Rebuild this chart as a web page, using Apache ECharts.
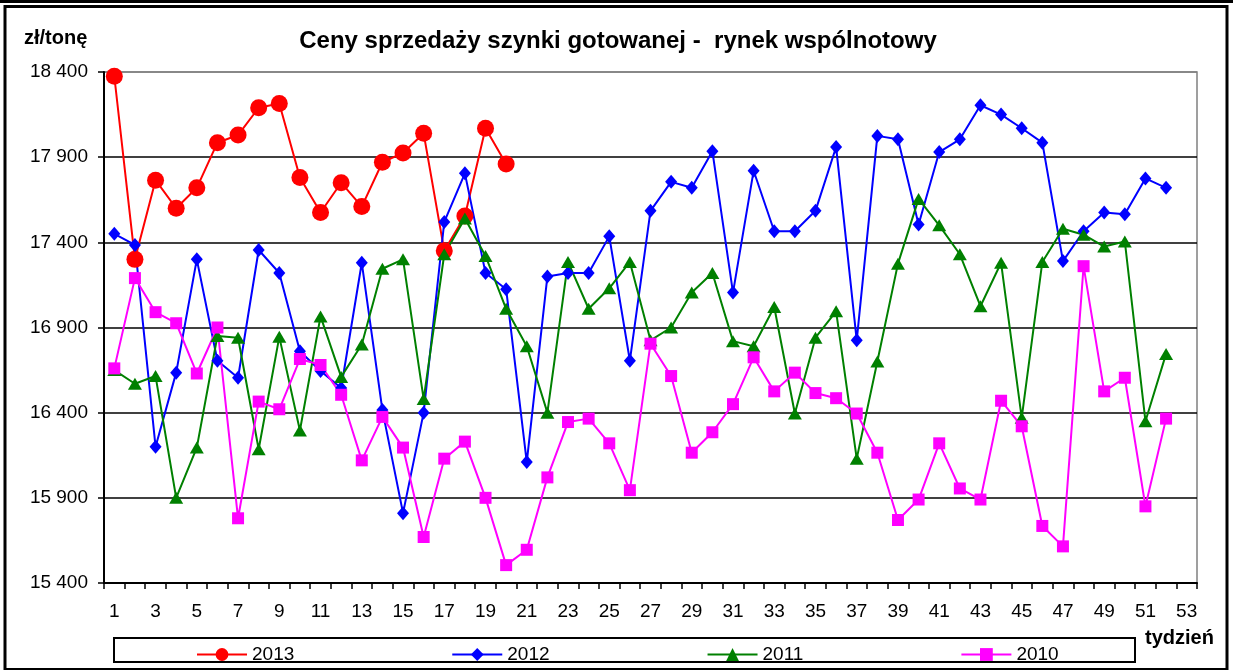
<!DOCTYPE html>
<html>
<head>
<meta charset="utf-8">
<script src="https://cdn.jsdelivr.net/npm/echarts@6/dist/echarts.min.js"></script>
<style>
html,body{margin:0;padding:0;background:#fff;}
#chart{width:1233px;height:670px;}
</style>
</head>
<body>
<div id="chart"></div>
<script>
var weeks = [];
for (var i = 1; i <= 53; i++) weeks.push(String(i));

var seriesNames = ['2013', '2012', '2011', '2010'];

var s2013 = [18375, 17300, 17765, 17600, 17720, 17985, 18030, 18190, 18215, 17780,
             17575, 17750, 17610, 17870, 17925, 18040, 17350, 17555, 18070, 17860];

var s2012 = [17450, 17385, 16200, 16635, 17300, 16705, 16605, 17355, 17220, 16760,
             16645, 16545, 17280, 16415, 15810, 16400, 17520, 17805, 17220, 17125,
             16110, 17200, 17220, 17220, 17435, 16705, 17585, 17755, 17720, 17935,
             17105, 17820, 17465, 17465, 17585, 17960, 16825, 18025, 18005, 17505,
             17930, 18005, 18205, 18150, 18070, 17985, 17290, 17465, 17575, 17565,
             17775, 17720];

var s2011 = [16650, 16570, 16615, 15900, 16195, 16850, 16840, 16185, 16845, 16295,
             16965, 16610, 16800, 17245, 17300, 16480, 17330, 17540, 17320, 17010,
             16790, 16400, 17285, 17010, 17130, 17285, 16825, 16900, 17105, 17220,
             16820, 16790, 17020, 16395, 16840, 16995, 16130, 16700, 17275, 17655,
             17500, 17330, 17025, 17280, 16370, 17285, 17480, 17445, 17375, 17405,
             16350, 16745];

var s2010 = [16660, 17190, 16990, 16925, 16630, 16900, 15780, 16465, 16420, 16715,
             16680, 16505, 16120, 16375, 16195, 15670, 16130, 16230, 15900, 15505,
             15595, 16020, 16345, 16365, 16220, 15945, 16805, 16615, 16165, 16285,
             16450, 16725, 16525, 16635, 16515, 16485, 16395, 16165, 15770, 15890,
             16220, 15955, 15890, 16470, 16320, 15735, 15615, 17260, 16525, 16605,
             15850, 16365];

var yMin = 15400, yMax = 18400, yStep = 500;

var FONT = "'Liberation Sans', Arial, sans-serif";

function fmt(v) {
  return String(v).replace(/\B(?=(\d{3})+(?!\d))/g, ' ');
}

var chart = echarts.init(document.getElementById('chart'), null, {renderer: 'canvas'});

function mkSeries(name, data, color, symbol, size) {
  return {
    name: name,
    type: 'line',
    data: data,
    symbol: symbol,
    symbolSize: size,
    showAllSymbol: true,
    animation: false,
    lineStyle: {color: color, width: 2},
    itemStyle: {color: color, borderWidth: 0},
    emphasis: {disabled: true}
  };
}

var option = {
  animation: false,
  backgroundColor: '#ffffff',
  textStyle: {fontFamily: FONT, color: '#000'},
  grid: {
    left: 104, top: 72, right: 36, bottom: 87,
    show: true, borderColor: '#808080', borderWidth: 1.5,
    containLabel: false
  },
  legend: {
    data: seriesNames,
    left: 196, top: 645,
    padding: 0,
    itemGap: 157,
    itemWidth: 50, itemHeight: 16,
    textStyle: {fontFamily: FONT, fontSize: 19, color: '#000', padding: [3, 0, 0, 0]},
    selectedMode: false
  },
  xAxis: {
    type: 'category',
    data: weeks,
    boundaryGap: true,
    axisLine: {show: true, lineStyle: {color: '#000', width: 2}},
    axisTick: {show: true, interval: 0, length: 6, lineStyle: {color: '#000', width: 1.5}},
    axisLabel: {interval: 1, margin: 19, fontSize: 19, fontFamily: FONT, color: '#000'},
    splitLine: {show: false}
  },
  yAxis: {
    type: 'value',
    min: yMin, max: yMax, interval: yStep,
    axisLine: {show: true, lineStyle: {color: '#000', width: 2}},
    axisTick: {show: true, length: 6, lineStyle: {color: '#000', width: 1.5}},
    axisLabel: {margin: 16, fontSize: 19, fontFamily: FONT, color: '#000', formatter: fmt},
    splitLine: {show: true, lineStyle: {color: ['#000', '#000', '#000', '#000', '#000', '#000', '#808080'], width: 1.5}}
  },
  series: [
    mkSeries(seriesNames[0], s2013, '#FF0000', 'circle', 17),
    mkSeries(seriesNames[1], s2012, '#0000FF', 'diamond', [12, 14]),
    mkSeries(seriesNames[2], s2011, '#008000', 'triangle', [14, 12]),
    mkSeries(seriesNames[3], s2010, '#FF00FF', 'rect', 12)
  ],
  graphic: [
    {type: 'rect', silent: true, z: 100, shape: {x: 0, y: 0, width: 1233, height: 3}, style: {fill: '#000'}},
    {type: 'rect', silent: true, z: 100, shape: {x: 5, y: 6.5, width: 1222, height: 663}, style: {fill: 'none', stroke: '#000', lineWidth: 3}},
    {type: 'rect', silent: true, z: 100, shape: {x: 114, y: 638, width: 1021, height: 24}, style: {fill: 'none', stroke: '#000', lineWidth: 2}},
    {type: 'text', silent: true, z: 100, x: 618, y: 41,
      style: {text: 'Ceny sprzedaży szynki gotowanej -  rynek wspólnotowy', font: 'bold 24px ' + FONT, fill: '#000', textAlign: 'center', textVerticalAlign: 'middle'}},
    {type: 'text', silent: true, z: 100, x: 24, y: 38,
      style: {text: 'zł/tonę', font: 'bold 20px ' + FONT, fill: '#000', textAlign: 'left', textVerticalAlign: 'middle'}},
    {type: 'text', silent: true, z: 100, x: 1145, y: 638,
      style: {text: 'tydzień', font: 'bold 20px ' + FONT, fill: '#000', textAlign: 'left', textVerticalAlign: 'middle'}}
  ]
};

chart.setOption(option);
</script>
</body>
</html>
